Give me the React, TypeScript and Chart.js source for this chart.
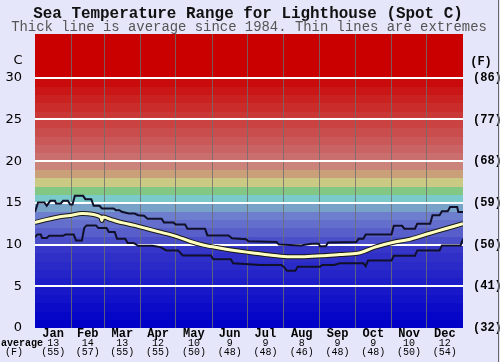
import React, { useEffect, useRef } from 'react';
import { Chart, registerables } from 'chart.js';

Chart.register(...registerables);

const TITLE = 'Sea Temperature Range for Lighthouse (Spot C)';
const SUBTITLE = 'Thick line is average since 1984. Thin lines are extremes';
const MONTHS = ['Jan', 'Feb', 'Mar', 'Apr', 'May', 'Jun', 'Jul', 'Aug', 'Sep', 'Oct', 'Nov', 'Dec'];
const MONTH_AVG_C = [13, 14, 13, 12, 10, 9, 9, 8, 9, 9, 10, 12];
const MONTH_AVG_F = [55, 57, 55, 55, 50, 48, 48, 46, 48, 48, 50, 54];
const MONTH_START_DAY = [0, 31, 59, 90, 120, 151, 181, 212, 243, 273, 304, 334, 365];
const Y_TICKS_C = [0, 5, 10, 15, 20, 25, 30];

// Upper extreme (day of year, °C)
const UPPER_DAYS = [0, 2.6, 8, 10, 13, 17, 18, 22, 24, 28, 30, 32, 34, 41, 43, 48, 50, 55, 57, 67, 69, 72, 74, 80, 85, 88, 93, 96, 108, 110, 118, 120, 128, 130, 145, 147, 165, 168, 180, 182, 206, 208, 227, 229, 236, 242, 243, 248, 250, 274, 276, 280, 282, 304, 306, 313, 315, 324, 326, 337, 339, 345, 347, 352, 354, 360, 361, 365];
const UPPER_TEMPS = [13.9, 15.05, 15.05, 14.65, 15.25, 15.25, 14.93, 14.93, 15.25, 15.25, 14.8, 14.8, 15.85, 15.85, 15.45, 15.45, 14.65, 14.65, 14.33, 14.33, 14.13, 14.13, 13.93, 13.73, 13.73, 13.53, 13.45, 13.1, 13.1, 12.65, 12.65, 12.4, 12.4, 11.9, 11.9, 11.1, 11.1, 10.75, 10.65, 10.4, 10.3, 10.0, 9.9, 9.95, 10.1, 10.1, 9.8, 9.8, 10.25, 10.3, 10.7, 10.7, 11.2, 11.2, 12.25, 12.25, 11.9, 11.9, 12.5, 12.5, 13.53, 13.53, 14.0, 14.0, 14.5, 14.5, 13.9, 13.9];

// Average (day of year, °C)
const AVG_DAYS = [0, 10, 20, 30, 40, 50, 56, 57, 58, 65, 75, 85, 93, 105, 119, 132, 144, 155, 163, 175, 186, 200, 215, 230, 245, 260, 275, 281, 290, 305, 320, 336, 350, 365];
const AVG_TEMPS = [12.65, 13.0, 13.3, 13.5, 13.73, 13.6, 13.3, 12.9, 13.3, 13.0, 12.6, 12.3, 12.0, 11.55, 11.05, 10.4, 9.93, 9.65, 9.45, 9.2, 9.0, 8.75, 8.55, 8.55, 8.65, 8.8, 8.95, 9.2, 9.7, 10.25, 10.65, 11.33, 11.9, 12.5];

// Lower extreme (day of year, °C)
const LOWER_DAYS = [0, 2, 5, 6, 10, 12, 24, 26, 33, 35, 40, 42, 44, 52, 54, 61, 63, 68, 70, 77, 79, 84, 88, 100, 107, 112, 122, 126, 150, 152, 167, 169, 192, 210, 212, 215, 222, 224, 243, 245, 255, 260, 280, 282, 284, 304, 306, 324, 326, 345, 347, 363, 365];
const LOWER_TEMPS = [10.9, 11.2, 11.2, 10.8, 10.8, 11.05, 11.05, 11.2, 11.2, 10.5, 10.5, 12.0, 12.3, 12.3, 12.0, 12.0, 11.5, 11.5, 10.7, 10.7, 10.2, 10.2, 9.85, 9.85, 9.7, 9.3, 9.3, 8.7, 8.7, 8.25, 8.25, 7.75, 7.55, 7.55, 7.35, 6.85, 6.85, 7.35, 7.35, 7.55, 7.55, 7.75, 7.75, 7.4, 8.1, 8.1, 8.65, 8.65, 9.3, 9.3, 9.9, 9.9, 10.7];

const Y_MAX = 35.25;
const MONO = '"Liberation Mono", "Courier New", monospace';

function toPoints(days: number[], temps: number[]) {
  return days.map((d, i) => ({ x: d, y: temps[i] }));
}

function bandColor(i: number): string {
  if (i < 10) {
    const v = 6 * i;
    return `rgb(${v},${v},200)`;
  }
  const mid: Record<number, string> = {
    10: 'rgb(74,78,200)',
    11: 'rgb(88,94,202)',
    12: 'rgb(100,110,204)',
    13: 'rgb(110,126,206)',
    14: 'rgb(120,162,200)',
    15: 'rgb(122,202,202)',
    16: 'rgb(130,200,132)',
    17: 'rgb(202,202,132)',
    18: 'rgb(202,160,122)',
    19: 'rgb(202,132,122)',
  };
  if (mid[i]) return mid[i];
  const g = Math.max(0, 110 - 11 * (i - 20));
  return `rgb(202,${g},${g})`;
}

function fitFont(ctx: CanvasRenderingContext2D, text: string, weight: string, target: number) {
  let size = 16;
  ctx.font = `${weight} ${size}px ${MONO}`;
  const w = ctx.measureText(text).width;
  size = (size * target) / w;
  ctx.font = `${weight} ${size}px ${MONO}`;
}

const bgPlugin = {
  id: 'bgBands',
  beforeDraw(chart: any) {
    const { ctx, chartArea, scales } = chart;
    ctx.save();
    ctx.fillStyle = '#e6e6fa';
    ctx.fillRect(0, 0, chart.width, chart.height);
    const y = scales.y;
    for (let i = 0; i < 36; i++) {
      const top = y.getPixelForValue(Math.min(i + 1, Y_MAX));
      const bot = y.getPixelForValue(i);
      if (bot <= chartArea.top) break;
      ctx.fillStyle = bandColor(i);
      const t = Math.max(top, chartArea.top);
      ctx.fillRect(chartArea.left, Math.floor(t), chartArea.right - chartArea.left, Math.ceil(bot) - Math.floor(t));
    }
    ctx.restore();
  },
  afterDraw(chart: any) {
    const { ctx, scales } = chart;
    ctx.save();
    ctx.fillStyle = '#111';
    ctx.textAlign = 'center';
    ctx.textBaseline = 'alphabetic';
    fitFont(ctx, TITLE, 'bold', 430);
    ctx.fillText(TITLE, 248, 18);
    ctx.fillStyle = '#555';
    fitFont(ctx, SUBTITLE, 'normal', 476);
    ctx.fillText(SUBTITLE, 249, 31);

    ctx.fillStyle = '#000';
    ctx.textBaseline = 'middle';
    ctx.font = '13px "DejaVu Sans", sans-serif';
    ctx.fillText('C', 18, 61);
    ctx.font = `bold 12px ${MONO}`;
    ctx.fillText('(F)', 481, 62);

    const x = scales.x;
    for (let m = 0; m < 12; m++) {
      const cx = x.getPixelForValue((MONTH_START_DAY[m] + MONTH_START_DAY[m + 1]) / 2);
      ctx.font = `bold 12px ${MONO}`;
      ctx.fillText(MONTHS[m], cx, 334);
      ctx.font = `10px ${MONO}`;
      ctx.fillText(String(MONTH_AVG_C[m]), cx, 343);
      ctx.fillText(`(${MONTH_AVG_F[m]})`, cx, 352.5);
    }
    ctx.font = `bold 10px ${MONO}`;
    ctx.fillText('average', 22, 343);
    ctx.font = `10px ${MONO}`;
    ctx.fillText('(F)', 14, 352.5);

    ctx.strokeStyle = '#666';
    ctx.lineWidth = 1;
    ctx.beginPath();
    ctx.moveTo(498.5, 0);
    ctx.lineTo(498.5, 362);
    ctx.stroke();
    ctx.restore();
  },
};

export default function App() {
  const ref = useRef<HTMLCanvasElement>(null);
  useEffect(() => {
    document.body.style.margin = '0';
    const chart = new Chart(ref.current as HTMLCanvasElement, {
      type: 'line',
      data: {
        datasets: [
          {
            data: toPoints(AVG_DAYS, AVG_TEMPS),
            borderColor: '#ffffc0',
            borderWidth: 3,
            pointRadius: 0,
            tension: 0.3,
            order: 0,
          },
          {
            data: toPoints(AVG_DAYS, AVG_TEMPS),
            borderColor: '#1a1a1a',
            borderWidth: 5,
            pointRadius: 0,
            tension: 0.3,
            order: 1,
          },
          {
            data: toPoints(UPPER_DAYS, UPPER_TEMPS),
            borderColor: '#10102a',
            borderWidth: 2,
            pointRadius: 0,
            tension: 0,
            order: 2,
          },
          {
            data: toPoints(LOWER_DAYS, LOWER_TEMPS),
            borderColor: '#10102a',
            borderWidth: 2,
            pointRadius: 0,
            tension: 0,
            order: 2,
          },
        ] as any,
      },
      options: {
        responsive: false,
        maintainAspectRatio: false,
        animation: false,
        devicePixelRatio: 1,
        events: [],
        layout: { padding: { top: 34, bottom: 34, left: 0, right: 0 } },
        plugins: { legend: { display: false }, tooltip: { enabled: false }, title: { display: false } },
        scales: {
          x: {
            type: 'linear',
            min: 0,
            max: 365,
            position: 'bottom',
            afterBuildTicks: (s: any) => {
              s.ticks = MONTH_START_DAY.map((v) => ({ value: v }));
            },
            ticks: { display: false },
            grid: {
              color: (c: any) => (c.tick && (c.tick.value === 0 || c.tick.value === 365) ? 'rgba(0,0,0,0)' : 'rgba(110,110,110,0.8)'),
              lineWidth: 1,
              drawTicks: false,
            },
            border: { display: false },
            afterFit: (s: any) => {
              s.height = 0;
            },
          },
          y: {
            type: 'linear',
            min: 0,
            max: Y_MAX,
            position: 'left',
            afterBuildTicks: (s: any) => {
              s.ticks = Y_TICKS_C.map((v) => ({ value: v }));
            },
            ticks: { padding: 13, color: '#000', font: { family: 'DejaVu Sans', size: 13 } },
            grid: {
              color: (c: any) => (c.tick && c.tick.value === 0 ? 'rgba(0,0,0,0)' : '#ffffff'),
              lineWidth: 2,
              drawTicks: false,
            },
            border: { display: false },
            afterFit: (s: any) => {
              s.width = 35;
            },
          },
          y2: {
            type: 'linear',
            min: 0,
            max: Y_MAX,
            position: 'right',
            afterBuildTicks: (s: any) => {
              s.ticks = Y_TICKS_C.map((v) => ({ value: v }));
            },
            ticks: {
              padding: 2,
              color: '#000',
              font: { family: 'Liberation Mono', size: 12, weight: 'bold' },
              callback: (v: any) => `(${Math.round((Number(v) * 9) / 5 + 32)})`,
            },
            grid: { display: false },
            border: { display: false },
            afterFit: (s: any) => {
              s.width = 37;
            },
          },
        },
      } as any,
      plugins: [bgPlugin],
    });
    return () => chart.destroy();
  }, []);
  return (
    <div style={{ position: 'fixed', left: 0, top: 0, width: 500, height: 362 }}>
      <canvas ref={ref} width={500} height={362} style={{ display: 'block', width: 500, height: 362 }} />
    </div>
  );
}
